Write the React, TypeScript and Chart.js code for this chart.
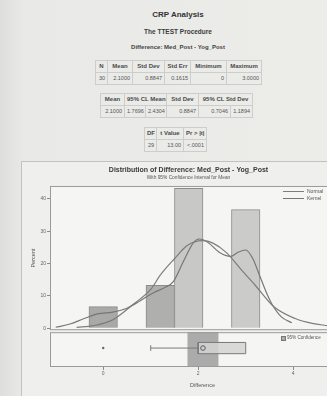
import React, { useEffect, useRef } from 'react';
import { Chart, registerables } from 'chart.js';

Chart.register(...registerables);

// ---- data ----
const histMid = [0, 1.2, 1.8, 3.0];
const histPercent = [6.7, 13.3, 43.3, 36.7];
const histColors = ['#a9a9a8', '#afafae', '#c8c8c6', '#cbcbc9'];

const normalX = [-0.56, -0.2, 0.2, 0.64, 1.0, 1.2, 1.5, 1.76, 2.0, 2.1, 2.3, 2.6, 2.9, 3.2, 3.58, 4.04, 4.4, 4.73];
const normalY = [0.3, 0.8, 2.6, 7.5, 12.0, 16.4, 21.5, 25.5, 27.0, 27.1, 26.4, 23.3, 18.2, 13.3, 6.8, 3.0, 1.5, 0.8];

const kernelX = [-1.0, -0.7, -0.4, -0.1, 0.2, 0.5, 0.78, 1.06, 1.3, 1.48, 1.69, 1.9, 2.02, 2.2, 2.45, 2.68, 2.85, 3.0, 3.15, 3.3, 3.45, 3.55, 3.75, 3.97];
const kernelY = [0.3, 1.3, 3.0, 4.5, 5.0, 6.2, 8.5, 11.0, 12.6, 14.5, 20.7, 26.5, 27.6, 26.6, 23.4, 22.2, 23.6, 24.2, 21.5, 16.0, 10.5, 7.5, 3.5, 1.7];

const xTicks = [0, 2, 4];
const yTicks = [0, 10, 20, 30, 40];

const ciMean = [1.7696, 2.4304];
const boxQuartiles = [2, 2, 3]; // Q1, median, Q3
const whiskerLow = [1];
const meanValue = [2.1];
const outliers = [0];

const table1Head = ['N', 'Mean', 'Std Dev', 'Std Err', 'Minimum', 'Maximum'];
const table1Row = ['30', '2.1000', '0.8847', '0.1615', '0', '3.0000'];
const table2Head = ['Mean', '95% CL Mean', 'Std Dev', '95% CL Std Dev'];
const table2Row = ['2.1000', '1.7696', '2.4304', '0.8847', '0.7046', '1.1894'];
const table3Head = ['DF', 't Value', 'Pr > |t|'];
const table3Row = ['29', '13.00', '<.0001'];

const FONT = '"Liberation Sans", Arial, sans-serif';

const pts = (xs: number[], ys: number[]) => xs.map((x, i) => ({ x, y: ys[i] }));

const BOX_LO = 0.38;
const BOX_HI = 0.7;
const BOX_MID = 0.54;

const framePlugin = {
  id: 'frames',
  beforeDatasetsDraw(chart: any) {
    const { ctx, chartArea, scales } = chart;
    const y = scales.y;
    const yb = scales.yBox;
    ctx.save();
    ctx.fillStyle = '#f5f5f3';
    ctx.fillRect(chartArea.left, y.top, chartArea.right - chartArea.left, y.bottom - y.top);
    ctx.fillRect(chartArea.left, yb.top + 2, chartArea.right - chartArea.left, yb.bottom - yb.top - 2);
    ctx.restore();
  },
  afterDatasetsDraw(chart: any) {
    const { ctx, chartArea, scales } = chart;
    const y = scales.y;
    const yb = scales.yBox;
    ctx.save();
    ctx.strokeStyle = '#9a9a9a';
    ctx.lineWidth = 1;
    ctx.strokeRect(chartArea.left + 0.5, y.top + 0.5, chartArea.right - chartArea.left, y.bottom - y.top - 1);
    ctx.strokeRect(chartArea.left + 0.5, yb.top + 2.5, chartArea.right - chartArea.left, yb.bottom - yb.top - 3);
    ctx.restore();
  },
};

function ChartView() {
  const ref = useRef<HTMLCanvasElement | null>(null);
  useEffect(() => {
    if (!ref.current) return;
    const lineBase = { type: 'line', pointRadius: 0, borderWidth: 1, fill: false, tension: 0 };
    const chart = new Chart(ref.current, {
      type: 'bar',
      data: {
        datasets: [
          {
            type: 'bar',
            data: pts(histMid, histPercent),
            backgroundColor: histColors,
            borderColor: '#8c8c8c',
            borderWidth: 1,
            categoryPercentage: 1,
            barPercentage: 1,
            yAxisID: 'y',
            order: 5,
          },
          {
            ...lineBase,
            data: pts(normalX, normalY),
            borderColor: '#7d7d7d',
            borderWidth: 1.2,
            cubicInterpolationMode: 'monotone',
            yAxisID: 'y',
            order: 1,
          },
          {
            ...lineBase,
            data: pts(kernelX, kernelY),
            borderColor: '#777777',
            borderWidth: 1.2,
            cubicInterpolationMode: 'monotone',
            yAxisID: 'y',
            order: 1,
          },
          {
            ...lineBase,
            data: [{ x: ciMean[0], y: 1 }, { x: ciMean[1], y: 1 }],
            borderWidth: 0,
            borderColor: 'rgba(0,0,0,0)',
            fill: { value: 0 },
            backgroundColor: '#ababab',
            yAxisID: 'yBox',
            order: 4,
          },
          {
            ...lineBase,
            data: [{ x: boxQuartiles[0], y: BOX_HI }, { x: boxQuartiles[2], y: BOX_HI }],
            borderWidth: 0,
            borderColor: 'rgba(0,0,0,0)',
            fill: { value: BOX_LO },
            backgroundColor: 'rgba(212,212,210,0.85)',
            yAxisID: 'yBox',
            order: 3,
          },
          {
            ...lineBase,
            data: [
              { x: boxQuartiles[0], y: BOX_LO },
              { x: boxQuartiles[2], y: BOX_LO },
              { x: boxQuartiles[2], y: BOX_HI },
              { x: boxQuartiles[0], y: BOX_HI },
              { x: boxQuartiles[0], y: BOX_LO },
            ],
            borderColor: '#7a7a7a',
            yAxisID: 'yBox',
            order: 2,
          },
          {
            ...lineBase,
            data: [{ x: boxQuartiles[1], y: BOX_LO }, { x: boxQuartiles[1], y: BOX_HI }],
            borderColor: '#7a7a7a',
            yAxisID: 'yBox',
            order: 2,
          },
          {
            ...lineBase,
            data: [{ x: whiskerLow[0], y: BOX_MID }, { x: boxQuartiles[0], y: BOX_MID }],
            borderColor: '#7a7a7a',
            yAxisID: 'yBox',
            order: 2,
          },
          {
            ...lineBase,
            data: [{ x: whiskerLow[0], y: BOX_MID - 0.08 }, { x: whiskerLow[0], y: BOX_MID + 0.08 }],
            borderColor: '#7a7a7a',
            yAxisID: 'yBox',
            order: 2,
          },
          {
            ...lineBase,
            showLine: false,
            data: meanValue.map((x) => ({ x, y: BOX_MID })),
            pointRadius: 2.3,
            pointStyle: 'circle',
            pointBorderWidth: 1,
            pointBorderColor: '#5a5a5a',
            pointBackgroundColor: 'rgba(0,0,0,0)',
            yAxisID: 'yBox',
            order: 0,
          },
          {
            ...lineBase,
            showLine: false,
            data: outliers.map((x) => ({ x, y: BOX_MID })),
            pointRadius: 1.2,
            pointBorderWidth: 0,
            pointBackgroundColor: '#666666',
            yAxisID: 'yBox',
            order: 0,
          },
        ] as any,
      },
      options: {
        responsive: false,
        animation: false,
        devicePixelRatio: 1,
        layout: { padding: { left: 0, right: 7, top: 0, bottom: 6.7 } },
        plugins: {
          legend: { display: false },
          tooltip: { enabled: false },
          title: {
            display: true,
            text: 'Distribution of Difference: Med_Post - Yog_Post',
            font: { family: FONT, size: 7, weight: 'bold' },
            color: '#3a3a3a',
            padding: { top: 3.8, bottom: 0 },
          },
          subtitle: {
            display: true,
            text: 'With 95% Confidence Interval for Mean',
            font: { family: FONT, size: 4.8 },
            color: '#555555',
            padding: { top: 0.9, bottom: 5.1 },
          },
        },
        scales: {
          x: {
            type: 'linear',
            offset: false,
            min: -1.12,
            max: 5.3,
            afterBuildTicks: (s: any) => {
              s.ticks = xTicks.map((v) => ({ value: v }));
            },
            ticks: { font: { family: FONT, size: 5 }, color: '#666666', padding: 1 },
            grid: { offset: false, drawOnChartArea: false, tickLength: 3, color: '#8a8a8a' },
            border: { display: false },
            title: {
              display: true,
              text: 'Difference',
              font: { family: FONT, size: 5.5 },
              color: '#555555',
              padding: { top: 3.7, bottom: 1 },
            },
          },
          y: {
            type: 'linear',
            position: 'left',
            stack: 'main',
            stackWeight: 145,
            weight: 2,
            min: -0.6,
            max: 44,
            afterBuildTicks: (s: any) => {
              s.ticks = yTicks.map((v) => ({ value: v }));
            },
            afterFit: (s: any) => {
              s.width = 28;
            },
            ticks: { font: { family: FONT, size: 5 }, color: '#666666', padding: 1 },
            grid: { drawOnChartArea: false, tickLength: 3, color: '#8a8a8a' },
            border: { display: false },
            title: {
              display: true,
              text: 'Percent',
              font: { family: FONT, size: 5.5 },
              color: '#555555',
              padding: { top: 7.7, bottom: 2 },
            },
          },
          yBox: {
            type: 'linear',
            position: 'left',
            stack: 'main',
            stackWeight: 37,
            weight: 1,
            min: 0,
            max: 1.05,
            afterFit: (s: any) => {
              s.width = 28;
            },
            ticks: { display: false },
            grid: { display: false },
            border: { display: false },
          },
        },
      } as any,
      plugins: [framePlugin],
    });
    return () => chart.destroy();
  }, []);
  return (
    <canvas
      ref={ref}
      width={340}
      height={234}
      style={{ position: 'absolute', left: 22, top: 162, width: 340, height: 234 }}
    />
  );
}

const cell: React.CSSProperties = {
  border: '1px solid #cdcdcb',
  padding: '0 2px',
  height: 11,
  lineHeight: '11px',
  whiteSpace: 'nowrap',
  overflow: 'hidden',
};
const head: React.CSSProperties = { ...cell, fontWeight: 'bold', fontSize: 6, textAlign: 'center', color: '#4a4a4a' };
const val: React.CSSProperties = { ...cell, fontSize: 5.5, textAlign: 'right', color: '#555555' };
const tbl: React.CSSProperties = {
  position: 'absolute',
  borderCollapse: 'collapse',
  tableLayout: 'fixed',
  fontFamily: FONT,
};

export default function App() {
  return (
    <div
      style={{
        position: 'fixed',
        left: 0,
        top: 0,
        width: 327,
        height: 396,
        overflow: 'hidden',
        background: 'linear-gradient(to right, #dededc 0px, #e9e9e7 24px, #ecece9 100%)',
        fontFamily: FONT,
      }}
    >
      <div style={{ position: 'absolute', left: 0, width: 356, top: 10, textAlign: 'center', fontSize: 8, lineHeight: '10px', fontWeight: 'bold', color: '#333' }}>
        CRP Analysis
      </div>
      <div style={{ position: 'absolute', left: 0, width: 356, top: 28, textAlign: 'center', fontSize: 6.5, lineHeight: '8px', fontWeight: 'bold', color: '#3c3c3c' }}>
        The TTEST Procedure
      </div>
      <div style={{ position: 'absolute', left: 0, width: 356, top: 43, textAlign: 'center', fontSize: 6, lineHeight: '8px', fontWeight: 'bold', color: '#444' }}>
        Difference: Med_Post - Yog_Post
      </div>

      <table style={{ ...tbl, left: 95, top: 60, width: 166 }}>
        <colgroup>
          {[12, 25, 32, 26, 36, 35].map((w, i) => (
            <col key={i} style={{ width: w }} />
          ))}
        </colgroup>
        <tbody>
          <tr>{table1Head.map((h, i) => <th key={i} style={head}>{h}</th>)}</tr>
          <tr>{table1Row.map((v, i) => <td key={i} style={val}>{v}</td>)}</tr>
        </tbody>
      </table>

      <table style={{ ...tbl, left: 100, top: 93, width: 152 }}>
        <colgroup>
          {[24, 21, 21, 32, 32, 22].map((w, i) => (
            <col key={i} style={{ width: w }} />
          ))}
        </colgroup>
        <tbody>
          <tr>
            <th style={head}>{table2Head[0]}</th>
            <th style={head} colSpan={2}>{table2Head[1]}</th>
            <th style={head}>{table2Head[2]}</th>
            <th style={head} colSpan={2}>{table2Head[3]}</th>
          </tr>
          <tr>{table2Row.map((v, i) => <td key={i} style={val}>{v}</td>)}</tr>
        </tbody>
      </table>

      <table style={{ ...tbl, left: 144, top: 127, width: 62 }}>
        <colgroup>
          {[12, 27, 23].map((w, i) => (
            <col key={i} style={{ width: w }} />
          ))}
        </colgroup>
        <tbody>
          <tr>{table3Head.map((h, i) => <th key={i} style={head}>{h}</th>)}</tr>
          <tr>{table3Row.map((v, i) => <td key={i} style={val}>{v}</td>)}</tr>
        </tbody>
      </table>

      <div style={{ position: 'absolute', left: 21, top: 161, width: 342, height: 240, border: '1px solid #c2c2c0', background: '#efefed', boxSizing: 'border-box' }} />
      <ChartView />

      <div style={{ position: 'absolute', left: 283, top: 191, width: 21, height: 0, borderTop: '1px solid #7d7d7d' }} />
      <div style={{ position: 'absolute', left: 307, top: 188, fontSize: 5, lineHeight: '6px', color: '#555' }}>Normal</div>
      <div style={{ position: 'absolute', left: 283, top: 198, width: 21, height: 0, borderTop: '1px solid #777' }} />
      <div style={{ position: 'absolute', left: 307, top: 195, fontSize: 5, lineHeight: '6px', color: '#555' }}>Kernel</div>

      <div style={{ position: 'absolute', left: 281, top: 336, width: 3, height: 3, border: '1px solid #777', background: '#ababab' }} />
      <div style={{ position: 'absolute', left: 287, top: 334.5, fontSize: 4.6, lineHeight: '6px', color: '#555', whiteSpace: 'nowrap' }}>95% Confidence</div>
    </div>
  );
}
